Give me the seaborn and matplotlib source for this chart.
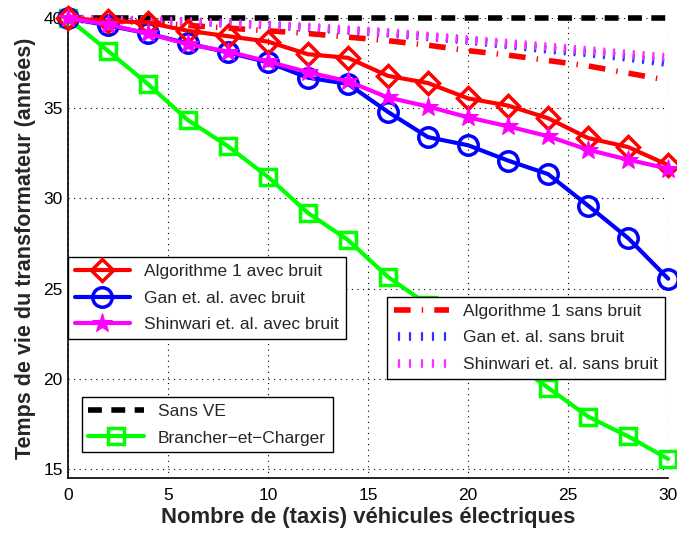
import numpy as np
import pandas as pd
import matplotlib
matplotlib.use("Agg")
import matplotlib.pyplot as plt
import matplotlib.patheffects as pe
import seaborn as sns

# donnees
nb_ve = [0, 2, 4, 6, 8, 10, 12, 14, 16, 18, 20, 22, 24, 26, 28, 30]
algo1_bruit = [40.0, 39.85, 39.75, 39.3, 39.0, 38.7, 38.0, 37.8, 36.8, 36.4, 35.55, 35.15, 34.45, 33.35, 32.85, 31.85]
gan_bruit = [40.0, 39.6, 39.15, 38.6, 38.1, 37.55, 36.7, 36.35, 34.8, 33.4, 32.95, 32.1, 31.35, 29.6, 27.8, 25.55]
shinwari_bruit = [40.0, 39.65, 39.15, 38.55, 38.15, 37.6, 37.0, 36.5, 35.6, 35.1, 34.5, 34.0, 33.45, 32.7, 32.15, 31.65]
algo1_sans = [40.0, 39.9, 39.75, 39.6, 39.45, 39.3, 39.15, 38.95, 38.75, 38.5, 38.2, 37.95, 37.65, 37.35, 36.95, 36.55]
gan_sans = [40.0, 39.95, 39.9, 39.85, 39.75, 39.65, 39.5, 39.35, 39.2, 39.0, 38.8, 38.55, 38.3, 38.1, 37.85, 37.55]
shinwari_sans = [40.0, 39.95, 39.9, 39.85, 39.75, 39.65, 39.55, 39.4, 39.25, 39.05, 38.85, 38.65, 38.45, 38.25, 38.05, 37.85]
sans_ve = [40.0] * 16
brancher = [40.0, 38.2, 36.35, 34.35, 32.9, 31.2, 29.2, 27.7, 25.65, 24.1, 22.6, 21.1, 19.5, 17.9, 16.8, 15.55]

sns.set_style("white")
plt.rcParams['font.family'] = ['Liberation Sans', 'DejaVu Sans']

fig = plt.figure(figsize=(6.77, 5.34), dpi=100)
ax = fig.add_axes([0.100, 0.105, 0.887, 0.861])

def trace(y, couleur, **kw):
   df = pd.DataFrame({'x': nb_ve, 'y': y})
   sns.lineplot(data=df, x='x', y='y', ax=ax, color=couleur, clip_on=False, **kw)
   return ax.get_lines()[-1]

h_sans_ve = trace(sans_ve, 'black', linewidth=4, dashes=(2.5, 1.7), zorder=3)
h_algo_s = trace(algo1_sans, '#ff0000', linewidth=4, dashes=(3, 2, 0.25, 2), zorder=3)
# pointilles en petits traits verticaux (seulement les traits)
h_gan_s = trace(gan_sans, '#0000ff', linewidth=1.5, zorder=3)
h_gan_s.set_path_effects([pe.TickedStroke(offset=(0, 2), spacing=7, angle=-90, length=0.7, linewidth=1.6, foreground='#3030ff')])
h_shin_s = trace(shinwari_sans, '#ff00ff', linewidth=1.5, zorder=3)
h_shin_s.set_path_effects([pe.TickedStroke(offset=(0, 2), spacing=7, angle=-90, length=0.7, linewidth=1.6, foreground='#ff30ff')])
h_bran = trace(brancher, '#00ff00', linewidth=3, marker='s', markersize=12,
               markerfacecolor='none', markeredgecolor='#00ff00', markeredgewidth=2.5, zorder=4)
h_gan = trace(gan_bruit, '#0000ff', linewidth=3, marker='o', markersize=14,
              markerfacecolor='none', markeredgecolor='#0000ff', markeredgewidth=2.5, zorder=5)
h_algo = trace(algo1_bruit, '#ff0000', linewidth=3, marker='D', markersize=11.5,
               markerfacecolor='none', markeredgecolor='#ff0000', markeredgewidth=2.5, zorder=6)
h_shin = trace(shinwari_bruit, '#ff00ff', linewidth=3, marker='*', markersize=15,
               markerfacecolor='#ff00ff', markeredgecolor='#ff00ff', zorder=7)

ax.set_xlim(0, 30)
ax.set_ylim(14.5, 40)
ax.set_xticks([0, 5, 10, 15, 20, 25, 30])
ax.set_yticks([15, 20, 25, 30, 35, 40])
ax.tick_params(direction='in', length=5, labelsize=12.5, colors='black')
ax.tick_params(axis='x', pad=7)
ax.grid(True, linestyle=(0, (1, 4)), color='black', linewidth=0.8)
for s in ['top', 'right']:
   ax.spines[s].set_visible(False)
for s in ['left', 'bottom']:
   ax.spines[s].set_color('black')
   ax.spines[s].set_linewidth(1.2)

ax.set_xlabel('Nombre de (taxis) véhicules électriques', fontsize=15.8, fontweight='bold', labelpad=3)
ax.set_ylabel('Temps de vie du transformateur (années)', fontsize=15.5, fontweight='bold', labelpad=5)

opts = dict(frameon=True, fancybox=False, shadow=False, handlelength=3.2, labelspacing=0.65,
            borderaxespad=0, edgecolor='black', framealpha=1)
leg1 = ax.legend([h_algo, h_gan, h_shin],
                 ['Algorithme 1 avec bruit', 'Gan et. al. avec bruit', 'Shinwari et. al. avec bruit'],
                 loc='upper left', bbox_to_anchor=(0.0, 0.48), fontsize=12.5, **opts)
leg1.get_frame().set_linewidth(1.0)
ax.add_artist(leg1)
leg2 = ax.legend([h_algo_s, h_gan_s, h_shin_s],
                 ['Algorithme 1 sans bruit', 'Gan et. al. sans bruit', 'Shinwari et. al. sans bruit'],
                 loc='upper right', bbox_to_anchor=(0.995, 0.394), fontsize=12.5, **opts)
leg2.get_frame().set_linewidth(1.0)
ax.add_artist(leg2)
leg3 = ax.legend([h_sans_ve, h_bran], ['Sans VE', 'Brancher\u2212et\u2212Charger'],
                 loc='upper left', bbox_to_anchor=(0.023, 0.176), fontsize=12.5, **opts)
leg3.get_frame().set_linewidth(1.0)
for leg in (leg1, leg2, leg3):
   leg.set_zorder(10)

fig.savefig('out.png', dpi=100)
